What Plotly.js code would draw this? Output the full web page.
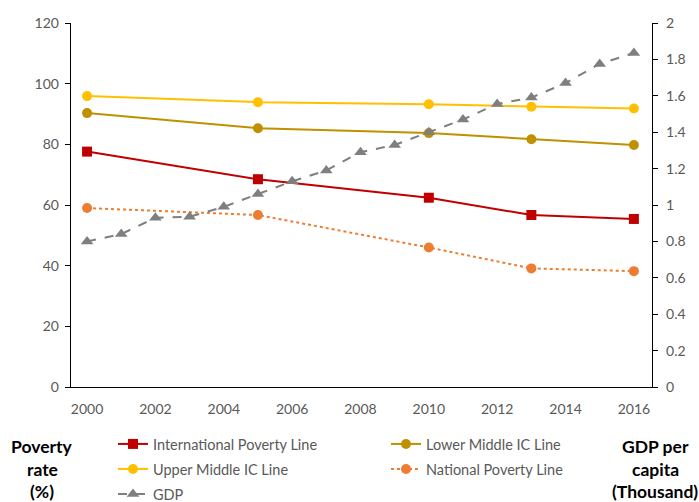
<!DOCTYPE html>
<html>
<head>
<meta charset="utf-8">
<script src="https://cdn.plot.ly/plotly-3.0.1.min.js"></script>
<style>html,body{margin:0;padding:0;background:#fff;}#chart{width:699px;height:502px;}</style>
</head>
<body>
<div id="chart"></div>
<script>
var povertyYears = [2000, 2005, 2010, 2013, 2016];
var intlPoverty = [77.6, 68.5, 62.4, 56.7, 55.4];
var lowerMiddle = [90.3, 85.3, 83.7, 81.7, 79.8];
var upperMiddle = [95.9, 93.9, 93.2, 92.4, 91.8];
var nationalPoverty = [59.0, 56.7, 46.0, 39.1, 38.2];
var gdpYears = [2000, 2001, 2002, 2003, 2004, 2005, 2006, 2007, 2008, 2009, 2010, 2011, 2012, 2013, 2014, 2015, 2016];
var gdp = [0.80, 0.84, 0.93, 0.935, 0.99, 1.06, 1.13, 1.19, 1.29, 1.33, 1.40, 1.47, 1.555, 1.59, 1.67, 1.775, 1.835];
var xTicks = [2000, 2002, 2004, 2006, 2008, 2010, 2012, 2014, 2016];
var leftTicks = [0, 20, 40, 60, 80, 100, 120];
var rightTicks = [0, 0.2, 0.4, 0.6, 0.8, 1, 1.2, 1.4, 1.6, 1.8, 2];

var FONT = 'Lato, "Open Sans", sans-serif';
var GRAY = '#595959';

var traces = [
  {x: povertyYears, y: intlPoverty, name: 'International Poverty Line', type: 'scatter', mode: 'lines+markers',
   line: {color: '#C00000', width: 2}, marker: {symbol: 'square', size: 10, color: '#C00000'}, legend: 'legend'},
  {x: povertyYears, y: lowerMiddle, name: 'Lower Middle IC Line', type: 'scatter', mode: 'lines+markers',
   line: {color: '#BF9000', width: 2}, marker: {symbol: 'circle', size: 10, color: '#BF9000'}, legend: 'legend2'},
  {x: povertyYears, y: upperMiddle, name: 'Upper Middle IC Line', type: 'scatter', mode: 'lines+markers',
   line: {color: '#FFC000', width: 2}, marker: {symbol: 'circle', size: 10, color: '#FFC000'}, legend: 'legend3'},
  {x: povertyYears, y: nationalPoverty, name: 'National Poverty Line', type: 'scatter', mode: 'lines+markers',
   line: {color: '#ED7D31', width: 2, dash: 'dot'}, marker: {symbol: 'circle', size: 10, color: '#ED7D31'}, legend: 'legend4'},
  {x: gdpYears, y: gdp, name: 'GDP', type: 'scatter', mode: 'lines+markers', yaxis: 'y2',
   line: {color: '#7F7F7F', width: 2, dash: 'dash'}, marker: {symbol: 'triangle-up', size: 11, color: '#7F7F7F'}, legend: 'legend5'}
];

var plotL = 71, plotR = 652, plotT = 23, plotB = 387;
var W = 699, H = 502;
function px2x(p){ return (p - plotL) / (plotR - plotL); }
function px2y(p){ return (plotB - p) / (plotB - plotT); }

function mkLegend(lx, cy){
  return {x: px2x(lx), y: px2y(cy), xanchor: 'left', yanchor: 'middle', orientation: 'v',
          bgcolor: 'rgba(0,0,0,0)', borderwidth: 0, font: {family: FONT, size: 14.5, color: GRAY}};
}

var titleFont = {family: FONT, size: 17.5, color: '#000000', weight: 'bold'};
function ann(text, cx, cy){
  return {text: '<b>' + text + '</b>', xref: 'paper', yref: 'paper', x: px2x(cx), y: px2y(cy),
          xanchor: 'center', yanchor: 'middle', showarrow: false, font: titleFont};
}

var tickFont = {family: FONT, size: 14, color: GRAY};
var layout = {
  width: W, height: H,
  margin: {l: plotL, r: W - plotR, t: plotT, b: H - plotB, pad: 0, autoexpand: false},
  paper_bgcolor: '#ffffff', plot_bgcolor: '#ffffff',
  font: {family: FONT, size: 13, color: GRAY},
  showlegend: true,
  xaxis: {range: [1999.53, 2016.53], tickvals: xTicks, ticktext: xTicks.map(String), showgrid: false, zeroline: false,
          showline: true, linecolor: '#000000', linewidth: 1.3, ticks: '', tickfont: tickFont, automargin: false,
          ticklabelstandoff: 9},
  yaxis: {range: [0, 120], tickvals: leftTicks, showgrid: false, zeroline: false, showline: true, linecolor: '#000000',
          linewidth: 1.3, ticks: 'outside', ticklen: 5, tickcolor: '#000000', tickwidth: 1, tickfont: tickFont, automargin: false,
          ticklabelstandoff: 3},
  yaxis2: {range: [0, 2], tickvals: rightTicks, overlaying: 'y', side: 'right', showgrid: false, zeroline: false,
           showline: true, linecolor: '#000000', linewidth: 1.3, ticks: 'outside', ticklen: 5, tickcolor: '#000000', tickwidth: 1,
           tickfont: tickFont, automargin: false, ticklabelstandoff: 5},
  legend: mkLegend(113, 444),
  legend2: mkLegend(386, 444),
  legend3: mkLegend(113, 469),
  legend4: mkLegend(386, 469),
  legend5: mkLegend(113, 494),
  annotations: [
    ann('Poverty', 42, 446), ann('rate', 42, 469.5), ann('(%)', 42, 492),
    ann('GDP per', 655, 446), ann('capita', 655, 469.5), ann('(Thousand)', 655, 492)
  ]
};

Plotly.newPlot('chart', traces, layout, {displayModeBar: false, staticPlot: true});
</script>
</body>
</html>
